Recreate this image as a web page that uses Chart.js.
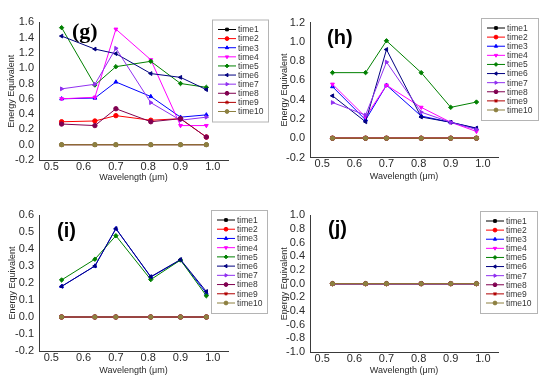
<!DOCTYPE html>
<html><head><meta charset="utf-8">
<script src="https://cdn.jsdelivr.net/npm/chart.js@4/dist/chart.umd.min.js"></script>
<style>
html,body{margin:0;padding:0;background:#fff;}
#wrap{position:relative;width:550px;height:384px;overflow:hidden;}
canvas{position:absolute;}
</style></head><body>
<div id="wrap">
<canvas id="cg" width="275" height="192" style="left:0;top:0"></canvas>
<canvas id="ch" width="275" height="192" style="left:275px;top:0"></canvas>
<canvas id="ci" width="275" height="192" style="left:0;top:192px"></canvas>
<canvas id="cj" width="275" height="192" style="left:275px;top:192px"></canvas>
</div>
<script>
// ---- data ----
const wavelengths = [0.532, 0.635, 0.70, 0.808, 0.90, 0.98];
const seriesNames = ['time1','time2','time3','time4','time5','time6','time7','time8','time9','time10'];
const xTicks = [0.5, 0.6, 0.7, 0.8, 0.9, 1.0];
const zeros = [0, 0, 0, 0, 0, 0];

// panel (g)
const g_time2 = [0.30, 0.31, 0.38, 0.32, 0.34, 0.10];
const g_time3 = [0.60, 0.61, 0.82, 0.63, 0.36, 0.39];
const g_time4 = [0.60, 0.62, 1.51, 1.11, 0.25, 0.25];
const g_time5 = [1.53, 0.78, 1.02, 1.09, 0.80, 0.75];
const g_time6 = [1.42, 1.25, 1.19, 0.93, 0.88, 0.72];
const g_time7 = [0.73, 0.79, 1.26, 0.55, 0.32, 0.36];
const g_time8 = [0.27, 0.25, 0.47, 0.30, 0.34, 0.10];
const yTicksG = [-0.2, 0.0, 0.2, 0.4, 0.6, 0.8, 1.0, 1.2, 1.4, 1.6];

// panel (h)
const h_time3 = [0.535, 0.19, 0.55, 0.23, 0.165, 0.10];
const h_time4 = [0.56, 0.22, 0.55, 0.32, 0.165, 0.07];
const h_time5 = [0.68, 0.68, 1.01, 0.68, 0.32, 0.375];
const h_time6 = [0.44, 0.17, 0.92, 0.22, 0.165, 0.105];
const h_time7 = [0.37, 0.24, 0.79, 0.27, 0.165, 0.09];
const yTicksH = [-0.2, 0.0, 0.2, 0.4, 0.6, 0.8, 1.0, 1.2];

// panel (i)
const i_time3 = [0.18, 0.30, 0.52, 0.235, 0.335, 0.14];
const i_time5 = [0.218, 0.34, 0.478, 0.22, 0.335, 0.125];
const i_time6 = [0.18, 0.30, 0.52, 0.237, 0.338, 0.15];
const yTicksI = [-0.2, -0.1, 0.0, 0.1, 0.2, 0.3, 0.4, 0.5, 0.6];

// panel (j)
const yTicksJ = [-1.0, -0.8, -0.6, -0.4, -0.2, 0.0, 0.2, 0.4, 0.6, 0.8, 1.0];

const panelLabels = ['(g)', '(h)', '(i)', '(j)'];

// series tables (time1..time10) per panel
const gSeries = [zeros, g_time2, g_time3, g_time4, g_time5, g_time6, g_time7, g_time8, zeros, zeros];
const hSeries = [zeros, zeros, h_time3, h_time4, h_time5, h_time6, h_time7, zeros, zeros, zeros];
const iSeries = [zeros, zeros, i_time3, zeros, i_time5, i_time6, zeros, zeros, zeros, zeros];
const jSeries = [zeros, zeros, zeros, zeros, zeros, zeros, zeros, zeros, zeros, zeros];

// ---- styles ----
const seriesColors = ['#000000','#ff0000','#0000ff','#ff00ff','#008000','#000080','#9030f0','#800050','#b00000','#8d8040'];
const seriesMarkers = ['rect','circle','triangle','triangle','rectRot','triangle','triangle','circle','star','circle'];
const seriesRotation = [0,0,0,180,0,-90,90,0,0,0];

const FONT = '"Liberation Sans", Arial, sans-serif';

const legendPlugin = {
  id: 'boxLegend',
  afterDraw(chart, args, opts) {
    const ctx = chart.ctx;
    const {x, y, w, h} = opts.box;
    ctx.save();
    ctx.fillStyle = '#ffffff';
    ctx.fillRect(x, y, w, h);
    ctx.strokeStyle = '#b4b4b4';
    ctx.lineWidth = 1;
    ctx.strokeRect(x + 0.5, y + 0.5, w, h);
    const ds = chart.data.datasets;
    const step = (h - 20) / (ds.length - 1);
    ds.forEach((d, i) => {
      const cy = y + 10 + i * step;
      ctx.strokeStyle = d.borderColor;
      ctx.fillStyle = d.borderColor;
      ctx.lineWidth = 1;
      ctx.beginPath();
      ctx.moveTo(x + 6, cy);
      ctx.lineTo(x + 24, cy);
      ctx.stroke();
      if (Chart.helpers && Chart.helpers.drawPoint) {
        Chart.helpers.drawPoint(ctx, {pointStyle: d.pointStyle, radius: 1.9, rotation: d.pointRotation, borderWidth: 1}, x + 15, cy);
      } else {
        ctx.beginPath(); ctx.arc(x + 15, cy, 1.9, 0, Math.PI * 2); ctx.fill();
      }
      ctx.fillStyle = '#333333';
      ctx.font = '8.5px ' + FONT;
      ctx.textBaseline = 'middle';
      ctx.textAlign = 'left';
      ctx.fillText(d.label, x + 26, cy + 0.5);
    });
    ctx.restore();
  }
};

const panelLabelPlugin = {
  id: 'panelLabel',
  afterDraw(chart, args, opts) {
    const ctx = chart.ctx;
    ctx.save();
    ctx.fillStyle = '#000000';
    ctx.font = opts.font;
    ctx.textBaseline = 'middle';
    ctx.textAlign = 'left';
    ctx.fillText(opts.text, opts.x, opts.y);
    ctx.restore();
  }
};

function makePanel(id, series, yTicks, lay) {
  const datasets = series.map((vals, i) => ({
    label: seriesNames[i],
    data: wavelengths.map((wl, k) => ({x: wl, y: vals[k]})),
    borderColor: seriesColors[i],
    backgroundColor: seriesColors[i],
    pointBackgroundColor: seriesColors[i],
    pointBorderColor: seriesColors[i],
    pointStyle: seriesMarkers[i],
    pointRotation: seriesRotation[i],
    pointRadius: 2.2,
    pointBorderWidth: 1,
    borderWidth: 1,
    tension: 0,
    order: series.length - 1 - i
  }));
  new Chart(document.getElementById(id), {
    type: 'line',
    data: {datasets},
    options: {
      responsive: false,
      animation: false,
      events: [],
      layout: {padding: {top: lay.top, right: lay.right, left: 0, bottom: 0}},
      plugins: {
        legend: {display: false},
        tooltip: {enabled: false},
        boxLegend: {box: lay.legend},
        panelLabel: {text: lay.label, x: lay.lx, y: lay.ly, font: lay.lfont}
      },
      scales: {
        x: {
          type: 'linear',
          min: 0.462, max: 1.047,
          afterBuildTicks: s => { s.ticks = xTicks.map(v => ({value: v})); },
          afterFit: s => { s.height = lay.xh; },
          grid: {display: false, drawTicks: false},
          border: {display: true, color: '#3a3a3a', width: 1},
          ticks: {padding: 0, autoSkip: false, color: '#2a2a2a', font: {family: FONT, size: 11}, maxRotation: 0,
                  callback: v => Number(v).toFixed(1)},
          title: {display: true, text: 'Wavelength (μm)', color: '#2a2a2a',
                  font: {family: FONT, size: 9}, padding: {top: 0, bottom: lay.xtp}}
        },
        y: {
          type: 'linear',
          min: yTicks[0], max: yTicks[yTicks.length - 1],
          afterBuildTicks: s => { s.ticks = yTicks.map(v => ({value: v})); },
          afterFit: s => { s.width = lay.yw; },
          grid: {display: false, drawTicks: false},
          border: {display: true, color: '#3a3a3a', width: 1},
          ticks: {padding: 5, autoSkip: false, color: '#2a2a2a', font: {family: FONT, size: 11},
                  callback: v => Number(v).toFixed(1)},
          title: {display: true, text: 'Energy Equivalent', color: '#2a2a2a',
                  font: {family: FONT, size: 9}, padding: {top: lay.ytp, bottom: 0}}
        }
      }
    },
    plugins: [legendPlugin, panelLabelPlugin]
  });
}

makePanel('cg', gSeries, yTicksG, {
  top: 22.3, right: 47, yw: 39, xh: 32, xtp: 8.6, ytp: 6.3,
  legend: {x: 212, y: 19.5, w: 56, h: 102},
  label: panelLabels[0], lx: 72, ly: 32.5, lfont: 'bold 22px "Liberation Serif", "DejaVu Serif", serif'
});
makePanel('ch', hSeries, yTicksH, {
  top: 22.5, right: 52, yw: 35, xh: 34.5, xtp: 10, ytp: 4.6,
  legend: {x: 206, y: 18, w: 57, h: 102},
  label: panelLabels[1], lx: 52, ly: 38.5, lfont: 'bold 20px "Liberation Sans", Arial, sans-serif'
});
makePanel('ci', iSeries, yTicksI, {
  top: 23, right: 47, yw: 39, xh: 33, xtp: 8.3, ytp: 7.3,
  legend: {x: 211, y: 18, w: 56, h: 103},
  label: panelLabels[2], lx: 57, ly: 39, lfont: 'bold 20px "Liberation Sans", Arial, sans-serif'
});
makePanel('cj', jSeries, yTicksJ, {
  top: 23.3, right: 52, yw: 35, xh: 32, xtp: 8.3, ytp: 4.6,
  legend: {x: 205, y: 19, w: 57, h: 102},
  label: panelLabels[3], lx: 53, ly: 37.5, lfont: 'bold 20px "Liberation Sans", Arial, sans-serif'
});
</script>
</body></html>
